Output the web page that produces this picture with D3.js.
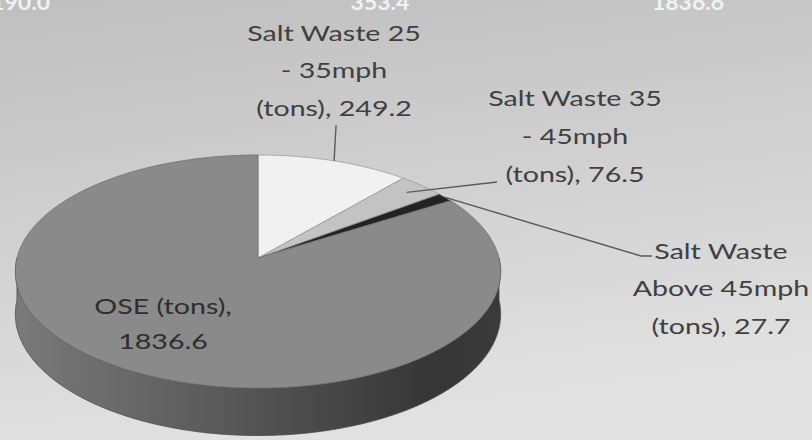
<!DOCTYPE html>
<html>
<head>
<meta charset="utf-8">
<script src="https://cdn.jsdelivr.net/npm/d3@7/dist/d3.min.js"></script>
<style>
  html, body { margin: 0; padding: 0; background: #cfcfcf; }
  svg { display: block; }
</style>
</head>
<body>
<svg id="chart" width="812" height="440"></svg>
<script>
// Slice order follows the pie clockwise from twelve o'clock
const categories = [
  "Salt Waste 25 - 35mph (tons)",
  "Salt Waste 35 - 45mph (tons)",
  "Salt Waste Above 45mph (tons)",
  "OSE (tons)"
];
const values = [249.2, 76.5, 27.7, 1836.6];
// Wrapped label lines for each slice (value appended to the last line)
const labelLines = [
  ["Salt Waste 25", "- 35mph", "(tons), "],
  ["Salt Waste 35", "- 45mph", "(tons), "],
  ["Salt Waste", "Above 45mph", "(tons), "],
  ["OSE (tons),", ""]
];
const sliceColors = ["#f1f1f1", "#c3c3c3", "#232323", "#8a8a8a"];

const W = 812, H = 440;
const svg = d3.select("#chart");
const defs = svg.append("defs");

// background
const bg = defs.append("linearGradient").attr("id", "bg")
  .attr("x1", 0).attr("y1", 0).attr("x2", 0.25).attr("y2", 1);
bg.append("stop").attr("offset", 0).attr("stop-color", "#bfbfbf");
bg.append("stop").attr("offset", 1).attr("stop-color", "#e1e1e1");
svg.append("rect").attr("width", W).attr("height", H).attr("fill", "url(#bg)");

// side wall shading
const side = defs.append("linearGradient").attr("id", "side")
  .attr("gradientUnits", "userSpaceOnUse").attr("x1", 15).attr("x2", 500).attr("y1", 0).attr("y2", 0);
[[0, "#7a7a7a"], [0.3, "#636363"], [0.6, "#4b4b4b"], [0.85, "#363636"], [1, "#3a3a3a"]]
  .forEach(([o, c]) => side.append("stop").attr("offset", o).attr("stop-color", c));

// perspective disc projection
const cx = 258, cy = 258, R = 241, D = 8.63 * R, K = 0.477, DEPTH = 42;
function proj(a, r, z) {
  const x = r * Math.sin(a), y = -r * Math.cos(a);
  const s = D / (D - y);
  return [cx + x * s, cy + (y * K + z) * s];
}
function rim(a0, a1, z) {
  const n = Math.max(2, Math.ceil(Math.abs(a1 - a0) / 0.01));
  return d3.range(n + 1).map(i => proj(a0 + (a1 - a0) * i / n, R, z));
}

const pie = d3.pie().sort(null).startAngle(0).endAngle(2 * Math.PI);
const arcs = pie(values);
const line = d3.line();

// front wall
const wallPts = rim(Math.PI / 2, 3 * Math.PI / 2, 0).concat(rim(3 * Math.PI / 2, Math.PI / 2, DEPTH));
svg.append("path").attr("d", line(wallPts) + "Z")
  .attr("fill", "url(#side)").attr("stroke", "#4a4a4a").attr("stroke-width", 0.8);

// top faces
svg.append("g").selectAll("path").data(arcs).join("path")
  .attr("d", d => line([[cx, cy]].concat(rim(d.startAngle, d.endAngle, 0))) + "Z")
  .attr("fill", (d, i) => sliceColors[i])
  .attr("stroke", (d, i) => i === 3 ? "#6e6e6e" : "#9a9a9a")
  .attr("stroke-width", 0.8)
  .attr("stroke-linejoin", "round");

// leader lines
const mid = d => (d.startAngle + d.endAngle) / 2;
const leaders = [
  d => { const p = proj(mid(d), R, 0); return [p, [p[0] + 2, 125]]; },
  d => { const p = proj(mid(d), R * 0.9, 0); return [p, [497, 182]]; },
  d => { const p = proj(mid(d), R, 0); return [p, [641, 256], [652, 256]]; }
];
svg.append("g").selectAll("path").data(arcs.slice(0, 3)).join("path")
  .attr("d", (d, i) => line(leaders[i](d)))
  .attr("fill", "none").attr("stroke", "#5a5a5a").attr("stroke-width", 1.4);

// data labels
const fmt = d3.format(".1f");
const labelPos = [
  { x: 334, y: 32, dy: 37.5 },
  { x: 575, y: 97, dy: 38 },
  { x: 721, y: 250, dy: 37.5 },
  { x: 163, y: 305, dy: 35 }
];
const STRETCH = 1.3;
arcs.forEach((d, i) => {
  const lines = labelLines[i].slice();
  lines[lines.length - 1] += fmt(d.data);
  const g = svg.append("g");
  lines.forEach((t, j) => {
    g.append("text")
      .attr("transform", `translate(${labelPos[i].x},${labelPos[i].y + j * labelPos[i].dy}) scale(${STRETCH},1)`)
      .attr("text-anchor", "middle")
      .attr("dominant-baseline", "central")
      .attr("font-family", "Lato, 'Open Sans', sans-serif")
      .attr("font-size", 22)
      .attr("fill", i === 3 ? "#2e2e2e" : "#404040")
      .text(t);
  });
});

// totals row along the top edge, running off the top of the frame
const totalAll = d3.sum(values);
const totalSalt = d3.sum(values.slice(0, 3));
const topRow = [
  { t: fmt(totalAll), x: 50, anchor: "end" },
  { t: fmt(totalSalt), x: 380, anchor: "middle" },
  { t: fmt(values[3]), x: 688, anchor: "middle" }
];
svg.append("g").selectAll("text").data(topRow).join("text")
  .attr("transform", d => `translate(${d.x},10) scale(1.15,1)`)
  .attr("text-anchor", d => d.anchor)
  .attr("font-family", "Lato, sans-serif")
  .attr("font-weight", "bold")
  .attr("font-size", 20)
  .attr("fill", "#f2f2f2")
  .text(d => d.t);
</script>
</body>
</html>
